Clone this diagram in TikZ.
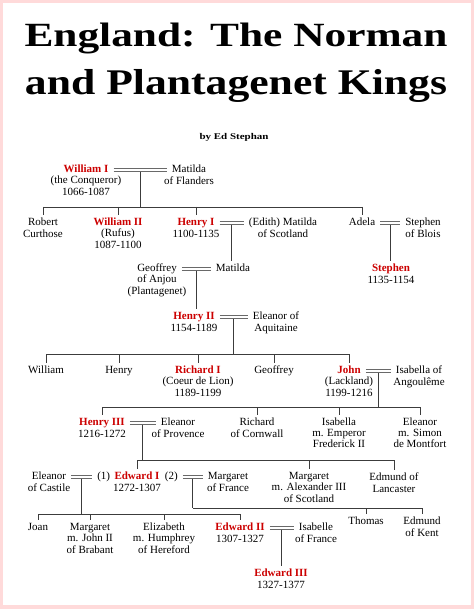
\documentclass[tikz,border=0pt]{standalone}
\usepackage{fontspec}
\setmainfont{Liberation Serif}
\usepackage{graphicx}
\usetikzlibrary{positioning}

\definecolor{kingred}{RGB}{204,0,0}
\definecolor{linegray}{RGB}{60,60,60}
\definecolor{wedgray}{RGB}{105,105,105}
\definecolor{framepink}{RGB}{255,218,218}
\newcommand\personfont{\fontsize{11}{11.5}\selectfont}
\newcommand\headfont{\fontsize{36}{40}\selectfont\bfseries}

\begin{document}
\begin{tikzpicture}[
  x=1pt, y=-1pt,
  every node/.style={font=\personfont, inner sep=0pt},
  nm/.style={execute at begin node=\strut},
  king/.style={nm, text=kingred, font=\personfont\bfseries},
  detail/.style={align=center, execute at begin node=\strut},
  wed/.style={draw=wedgray, line width=0.9pt, shorten <=5pt, shorten >=5pt},
  tie/.style={draw=linegray, line width=0.8pt},
  stem/.style={tie, shorten <=1.6pt},
  down/.style={stem, shorten >=2pt},
  drop/.style={tie, shorten >=2pt}
]
  \useasboundingbox (0,0) rectangle (474,609);
  \fill[framepink] (0,0) rectangle (474,609);
  \fill[white] (3,3) rectangle (471,605);

  \node (title1) at (236,38) {\resizebox*{423pt}{31pt}{\headfont England: The Norman}};
  \node (title2) at (236,86) {\resizebox*{422pt}{33pt}{\headfont and Plantagenet Kings}};
  \node (byline) at (234,137) {\resizebox*{69pt}{8pt}{\headfont by Ed Stephan}};

  \node[king] (williamI) at (86,170) {William I};
  \node[detail, below=0pt of williamI] (williamIa) {(the Conqueror)\\1066-1087};
  \node[nm] (matildaF) at (189,170) {Matilda};
  \node[detail, below=0pt of matildaF] (matildaFa) {of Flanders};

  \node[nm] (robert) at (43,223) {Robert};
  \node[detail, below=0pt of robert] (roberta) {Curthose};
  \node[king] (williamII) at (118,223) {William II};
  \node[detail, below=0pt of williamII] (williamIIa) {(Rufus)\\1087-1100};
  \node[king] (henryI) at (196,223) {Henry I};
  \node[detail, below=0pt of henryI] (henryIa) {1100-1135};
  \node[nm] (matildaS) at (283,223) {(Edith) Matilda};
  \node[detail, below=0pt of matildaS] (matildaSa) {of Scotland};
  \node[nm] (adela) at (362,223) {Adela};
  \node[nm] (stephenB) at (423,223) {Stephen};
  \node[detail, below=0pt of stephenB] (stephenBa) {of Blois};

  \node[nm] (geoffrey) at (157,269) {Geoffrey};
  \node[detail, below=0pt of geoffrey] (geoffreya) {of Anjou\\(Plantagenet)};
  \node[nm] (matildaD) at (233,269) {Matilda};
  \node[king] (stephen) at (391,269) {Stephen};
  \node[detail, below=0pt of stephen] (stephena) {1135-1154};

  \node[king] (henryII) at (194,317) {Henry II};
  \node[detail, below=0pt of henryII] (henryIIa) {1154-1189};
  \node[nm] (eleanorA) at (276,317) {Eleanor of};
  \node[detail, below=0pt of eleanorA] (eleanorAa) {Aquitaine};

  \node[nm] (william) at (46,371) {William};
  \node[nm] (henry) at (119,371) {Henry};
  \node[king] (richardI) at (198,371) {Richard I};
  \node[detail, below=0pt of richardI] (richardIa) {(Coeur de Lion)\\1189-1199};
  \node[nm] (geoffreyB) at (274,371) {Geoffrey};
  \node[king] (john) at (349,371) {John};
  \node[detail, below=0pt of john] (johna) {(Lackland)\\1199-1216};
  \node[nm] (isabellaA) at (419,371) {Isabella of};
  \node[detail, below=0pt of isabellaA] (isabellaAa) {Angoulême};

  \node[king] (henryIII) at (102,423) {Henry III};
  \node[detail, below=0pt of henryIII] (henryIIIa) {1216-1272};
  \node[nm] (eleanorP) at (178,423) {Eleanor};
  \node[detail, below=0pt of eleanorP] (eleanorPa) {of Provence};
  \node[nm] (richardC) at (257,423) {Richard};
  \node[detail, below=0pt of richardC] (richardCa) {of Cornwall};
  \node[nm] (isabellaF) at (339,423) {Isabella};
  \node[detail, below=0pt of isabellaF] (isabellaFa) {m. Emperor\\Frederick II};
  \node[nm] (eleanorM) at (420,423) {Eleanor};
  \node[detail, below=0pt of eleanorM] (eleanorMa) {m. Simon\\de Montfort};

  \node[nm] (castile) at (49,477) {Eleanor};
  \node[detail, below=0pt of castile] (castilea) {of Castile};
  \node[king] (edwardI) at (137,477) {Edward I};
  \node[detail, below=0pt of edwardI] (edwardIa) {1272-1307};
  \node[nm, left=4pt of edwardI] (one) {(1)};
  \node[nm, right=5pt of edwardI] (two) {(2)};
  \node[nm] (margaretF) at (228,477) {Margaret};
  \node[detail, below=0pt of margaretF] (margaretFa) {of France};
  \node[nm] (margaretS) at (309,477) {Margaret};
  \node[detail, below=0pt of margaretS] (margaretSa) {m. Alexander III\\of Scotland};
  \node[nm] (edmundL) at (394,478) {Edmund of};
  \node[detail, below=0pt of edmundL] (edmundLa) {Lancaster};

  \node[nm] (joan) at (38,528) {Joan};
  \node[nm] (margaretB) at (90,528) {Margaret};
  \node[detail, below=0pt of margaretB] (margaretBa) {m. John II\\of Brabant};
  \node[nm] (elizabeth) at (164,528) {Elizabeth};
  \node[detail, below=0pt of elizabeth] (elizabetha) {m. Humphrey\\of Hereford};
  \node[king] (edwardII) at (240,528) {Edward II};
  \node[detail, below=0pt of edwardII] (edwardIIa) {1307-1327};
  \node[nm] (isabelleF) at (316,528) {Isabelle};
  \node[detail, below=0pt of isabelleF] (isabelleFa) {of France};
  \node[nm] (thomas) at (366,522) {Thomas};
  \node[nm] (edmundK) at (422,522) {Edmund};
  \node[detail, below=0pt of edmundK] (edmundKa) {of Kent};

  \node[king] (edwardIII) at (281,574) {Edward III};
  \node[detail, below=0pt of edwardIII] (edwardIIIa) {1327-1377};

  \foreach \a/\b/\w in {williamI/matildaF/w1, henryI/matildaS/w2, adela/stephenB/w3,
      geoffrey/matildaD/w4, henryII/eleanorA/w5, john/isabellaA/w6,
      henryIII/eleanorP/w7, castile/one/w8, two/margaretF/w9, edwardII/isabelleF/w10} {
    \draw[wed] ([yshift=1.2pt]\a.east) -- ([yshift=1.2pt]\b.west);
    \draw[wed] ([yshift=-1.2pt]\a.east) -- ([yshift=-1.2pt]\b.west);
    \path (\a.east) -- coordinate (\w) (\b.west);
  }

  \coordinate (bar1) at (0,207);
  \coordinate (bar2) at (0,354);
  \coordinate (bar3) at (0,407);
  \coordinate (bar4) at (0,460);
  \coordinate (bar5) at (0,514);
  \coordinate (bar6) at (0,508);

  \draw[stem] (w1) -- (w1 |- bar1);
  \draw[tie] (bar1 -| robert) -- (bar1 -| adela);
  \foreach \c in {robert, williamII, henryI, adela}
    \draw[drop] (bar1 -| \c) -- (\c.north);
  \draw[down] (w2) -- (w2 |- matildaD.north);
  \draw[down] (w3) -- (w3 |- stephen.north);
  \draw[down] (w4) -- (w4 |- henryII.north);

  \draw[stem] (w5) -- (w5 |- bar2);
  \draw[tie] (bar2 -| william) -- (bar2 -| john);
  \foreach \c in {william, henry, richardI, geoffreyB, john}
    \draw[drop] (bar2 -| \c) -- (\c.north);

  \draw[stem] (w6) -- (w6 |- bar3);
  \draw[tie] (bar3 -| henryIII) -- (bar3 -| eleanorM);
  \foreach \c in {henryIII, richardC, isabellaF, eleanorM}
    \draw[drop] (bar3 -| \c) -- (\c.north);

  \draw[stem] (w7) -- (w7 |- bar4);
  \draw[tie] (bar4 -| edwardI) -- (bar4 -| edmundL);
  \foreach \c in {edwardI, margaretS, edmundL}
    \draw[drop] (bar4 -| \c) -- (\c.north);

  \draw[stem] (w8) -- (w8 |- bar5);
  \draw[tie] (bar5 -| joan) -- (bar5 -| edwardII);
  \foreach \c in {joan, margaretB, elizabeth, edwardII}
    \draw[drop] (bar5 -| \c) -- (\c.north);

  \draw[stem] (w9) -- (w9 |- bar6);
  \draw[tie] (bar6 -| w9) -- (bar6 -| edmundK);
  \foreach \c in {thomas, edmundK}
    \draw[drop] (bar6 -| \c) -- (\c.north);

  \draw[down] (w10) -- (w10 |- edwardIII.north);
\end{tikzpicture}
\end{document}
